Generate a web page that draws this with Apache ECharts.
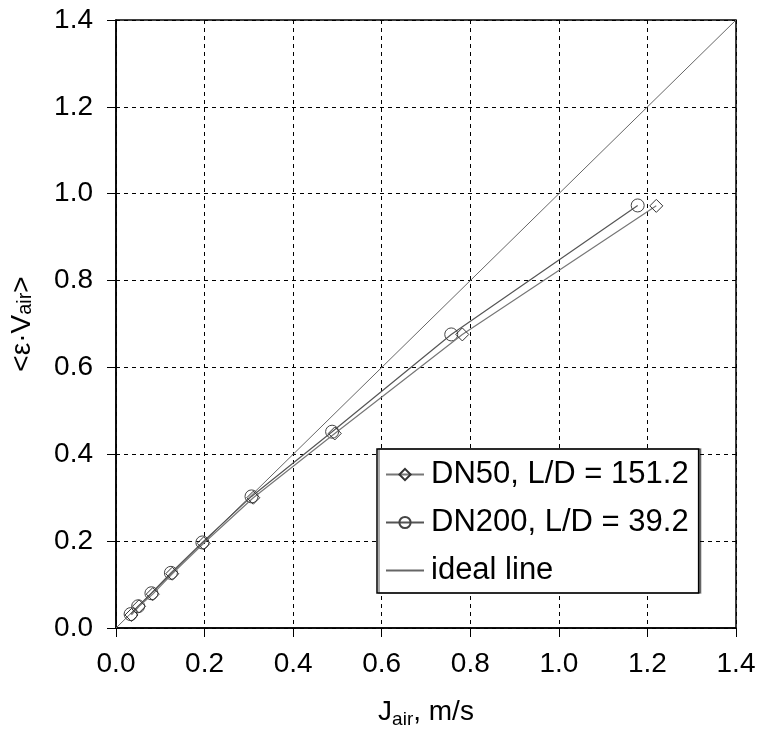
<!DOCTYPE html>
<html>
<head>
<meta charset="utf-8">
<script src="https://cdn.jsdelivr.net/npm/echarts@6/dist/echarts.min.js"></script>
<style>
  html, body { margin: 0; padding: 0; background: #fff; }
  #chart { width: 761px; height: 740px; }
</style>
</head>
<body>
<div id="chart"></div>
<script>
// data
const dn50X = [0.035, 0.052, 0.083, 0.127, 0.198, 0.31, 0.494, 0.782, 1.22];
const dn50Y = [0.03, 0.05, 0.078, 0.125, 0.195, 0.30, 0.448, 0.676, 0.972];
const dn200X = [0.033, 0.05, 0.08, 0.124, 0.195, 0.306, 0.488, 0.757, 1.178];
const dn200Y = [0.032, 0.05, 0.08, 0.127, 0.197, 0.303, 0.452, 0.676, 0.973];
const idealX = [0, 1.4];
const idealY = [0, 1.4];
const seriesNames = ['DN50, L/D = 151.2', 'DN200, L/D = 39.2', 'ideal line'];

const pairs = (xs, ys) => xs.map((x, i) => [x, ys[i]]);
const font = 'Arial, "Liberation Sans", sans-serif';

const chart = echarts.init(document.getElementById('chart'));

const axisCommon = {
  type: 'value',
  min: 0,
  max: 1.4,
  interval: 0.2,
  axisLine: { show: true, onZero: false, lineStyle: { color: '#000', width: 1.5 } },
  axisTick: { show: true, inside: false, length: 9, lineStyle: { color: '#000', width: 1 } },
  axisLabel: {
    color: '#000',
    fontSize: 28,
    fontFamily: font,
    formatter: v => v.toFixed(1),
  },
  splitLine: { show: true, lineStyle: { color: '#000', type: [4, 4], width: 1 } },
};

const option = {
  backgroundColor: '#fff',
  animation: false,
  grid: {
    left: 116, right: 25, top: 20, bottom: 112,
    outerBoundsMode: 'none',
    show: true, borderColor: '#000', borderWidth: 1.5,
  },
  xAxis: Object.assign({}, axisCommon, {
    axisLabel: Object.assign({}, axisCommon.axisLabel, { margin: 22 }),
    name: 'J{sub|air}, m/s',
    nameLocation: 'middle',
    nameGap: 68,
    nameTextStyle: {
      color: '#000',
      fontSize: 28,
      fontFamily: font,
      rich: { sub: { fontSize: 19, fontFamily: font, color: '#000', padding: [14, 0, 0, 0] } },
    },
  }),
  yAxis: Object.assign({}, axisCommon, {
    axisLabel: Object.assign({}, axisCommon.axisLabel, { margin: 23 }),
    name: '<ε·V{sub|air}>',
    nameLocation: 'middle',
    nameGap: 80,
    nameTextStyle: {
      color: '#000',
      fontSize: 28,
      fontFamily: font,
      rich: { sub: { fontSize: 20, fontFamily: font, color: '#000', padding: [6, 0, 0, 0] } },
    },
  }),
  legend: {
    orient: 'vertical',
    left: 377,
    top: 449,
    padding: [10, 10, 7, 8],
    itemWidth: 38,
    itemHeight: 14,
    itemGap: 17,
    backgroundColor: '#fff',
    borderColor: '#000',
    borderWidth: 1.5,
    shadowColor: 'rgba(0,0,0,0.45)',
    shadowOffsetX: 2,
    shadowOffsetY: 0,
    textStyle: { color: '#000', fontSize: 31, fontFamily: font, padding: [0, 0, 0, 2] },
    data: seriesNames,
  },
  series: [
    {
      name: seriesNames[2],
      type: 'line',
      data: pairs(idealX, idealY),
      symbol: 'none',
      lineStyle: { color: '#666', width: 1 },
      itemStyle: { color: 'rgba(0,0,0,0)', borderWidth: 0 },
      z: 1,
    },
    {
      name: seriesNames[0],
      type: 'line',
      data: pairs(dn50X, dn50Y),
      symbol: 'diamond',
      symbolSize: 13,
      lineStyle: { color: '#777', width: 1.2 },
      itemStyle: { color: 'rgba(255,255,255,0)', borderColor: '#333', borderWidth: 1 },
      z: 3,
    },
    {
      name: seriesNames[1],
      type: 'line',
      data: pairs(dn200X, dn200Y),
      symbol: 'circle',
      symbolSize: 13,
      lineStyle: { color: '#555', width: 1.2 },
      itemStyle: { color: 'rgba(255,255,255,0)', borderColor: '#444', borderWidth: 1 },
      z: 2,
    },
  ],
};

chart.setOption(option);
</script>
</body>
</html>
